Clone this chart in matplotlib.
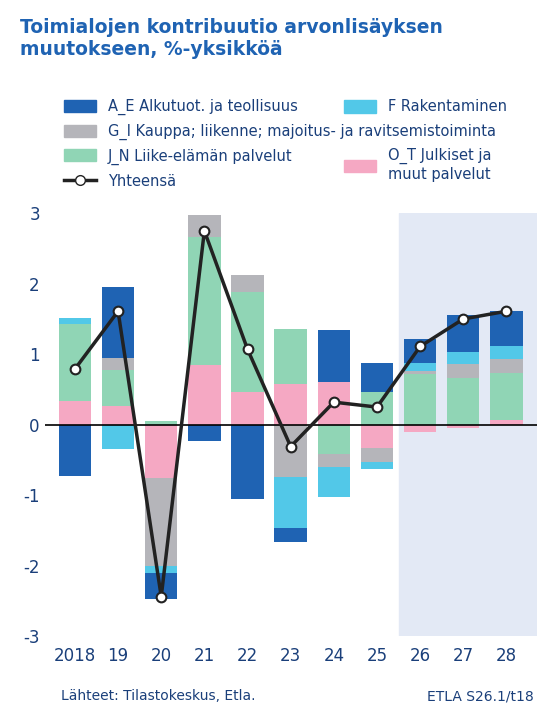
import numpy as np
import matplotlib.pyplot as plt
from matplotlib.lines import Line2D
from matplotlib.patches import Patch

plt.rcParams["axes.unicode_minus"] = False

years = ["2018", "19", "20", "21", "22", "23", "24", "25", "26", "27", "28"]
a_e = [-0.73, 1.01, -0.38, -0.23, -1.06, -0.20, 0.75, 0.42, 0.34, 0.52, 0.50]
f_rak = [0.09, -0.35, -0.10, 0.00, 0.00, -0.73, -0.43, -0.10, 0.12, 0.17, 0.18]
g_i = [0.00, 0.17, -1.25, 0.30, 0.25, -0.74, -0.18, -0.20, 0.04, 0.20, 0.20]
j_n = [1.10, 0.51, 0.05, 1.82, 1.41, 0.78, -0.42, 0.46, 0.72, 0.66, 0.67]
o_t = [0.33, 0.27, -0.75, 0.85, 0.47, 0.58, 0.60, -0.33, -0.10, -0.05, 0.06]
total = [0.79, 1.61, -2.44, 2.75, 1.07, -0.31, 0.32, 0.25, 1.11, 1.50, 1.61]

blue = "#1f63b3"
txt = "#1a3f7a"
cols = {"o": "#f5a8c3", "j": "#90d5b5", "g": "#b5b5ba", "f": "#52c8e8", "a": blue}
series = [("o", o_t), ("j", j_n), ("g", g_i), ("f", f_rak), ("a", a_e)]

fig = plt.figure(figsize=(5.59, 7.18), dpi=100)
ax = fig.add_axes([0.08, 0.114, 0.88, 0.589])
x = np.arange(len(years))
ax.axvspan(7.5, 10.7, color="#e3e9f5", zorder=0)

pos = np.zeros(len(x))
neg = np.zeros(len(x))
for key, vals in series:
    v = np.array(vals)
    bottom = np.where(v >= 0, pos, neg)
    ax.bar(x, v, 0.75, bottom=bottom, color=cols[key], zorder=2)
    pos += np.where(v >= 0, v, 0)
    neg += np.where(v < 0, v, 0)

ax.axhline(0, color="black", lw=1.2, zorder=3)
ax.plot(x, total, color="#222222", lw=2.5, marker="o", ms=7, mfc="white",
        mec="#222222", mew=1.5, zorder=4)

ax.set_xlim(-0.7, 10.7)
ax.set_ylim(-3, 3)
ax.set_yticks(range(-3, 4))
ax.set_xticks(x)
ax.set_xticklabels(years)
ax.tick_params(axis="both", length=0, labelsize=12, colors=txt)
ax.tick_params(axis="x", pad=8)
for s in ax.spines.values():
    s.set_visible(False)

fig.text(0.035, 0.975, "Toimialojen kontribuutio arvonlisäyksen\nmuutokseen, %-yksikköä",
         color=blue, fontsize=13.5, fontweight="semibold", va="top", linespacing=1.2)

handles = [Patch(color=cols["a"]), Patch(color=cols["g"]), Patch(color=cols["j"]),
           Line2D([], [], color="#222222", lw=2.5, marker="o", mfc="white", ms=7)]
labels = ["A_E Alkutuot. ja teollisuus", "G_I Kauppa; liikenne; majoitus- ja ravitsemistoiminta",
          "J_N Liike-elämän palvelut", "Yhteensä"]
fs = 10.5
y0, dy = 0.851, 0.0345
kw = dict(frameon=False, fontsize=fs, handlelength=2.2, handleheight=0.9,
          borderaxespad=0, borderpad=0, labelcolor=txt)
for i, (h, l) in enumerate(zip(handles, labels)):
    fig.legend([h], [l], loc="center left", bbox_to_anchor=(0.115, y0 - i * dy), **kw)
fig.legend([Patch(color=cols["f"])], ["F Rakentaminen"], loc="center left",
           bbox_to_anchor=(0.615, y0), **kw)
fig.legend([Patch(color=cols["o"])], ["O_T Julkiset ja\nmuut palvelut"], loc="upper left",
           bbox_to_anchor=(0.615, y0 - 2 * dy + 0.012), **kw)

fig.text(0.11, 0.025, "Lähteet: Tilastokeskus, Etla.", fontsize=10, color=txt)
fig.text(0.955, 0.025, "ETLA S26.1/t18", fontsize=10, color=txt, ha="right")

fig.savefig("out.png", dpi=100)
